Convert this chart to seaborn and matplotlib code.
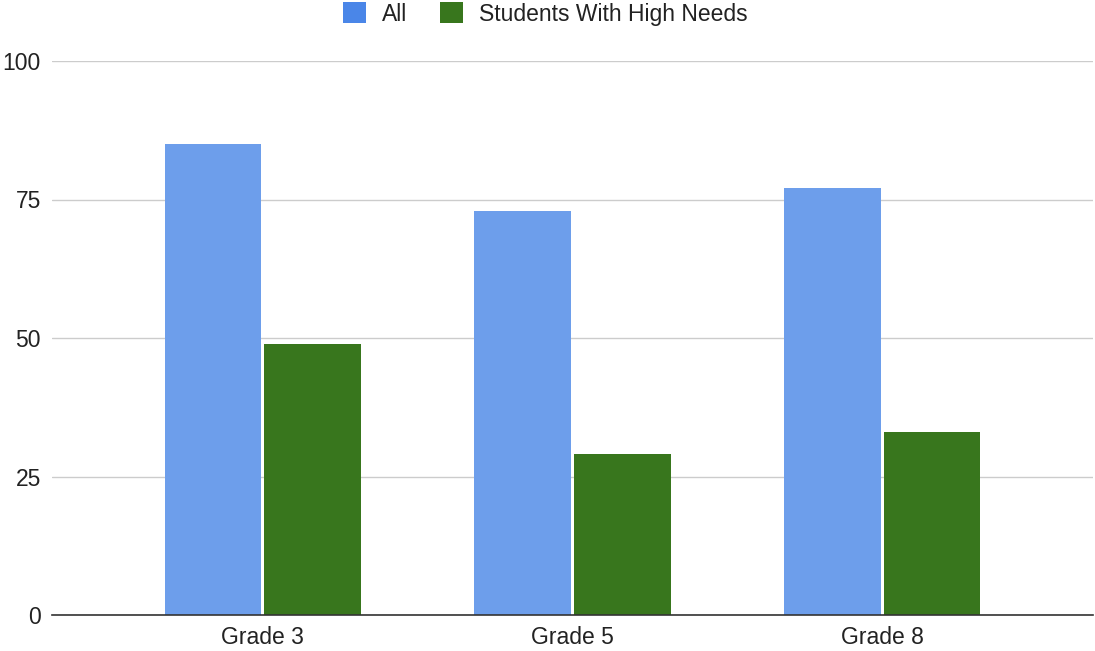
import matplotlib
matplotlib.use("Agg")
import matplotlib.pyplot as plt
from matplotlib.patches import Patch
import seaborn as sns
import pandas as pd

grades = ["Grade 3", "Grade 5", "Grade 8"]
all_students = [85, 73, 77]
high_needs = [49, 29, 33]
series_names = ["All", "Students With High Needs"]
bar_colors = ["#6d9eeb", "#38761d"]
legend_colors = ["#4a86e8", "#38761d"]
y_ticks = [0, 25, 50, 75, 100]

df = pd.DataFrame({
    "grade": grades * 2,
    "value": all_students + high_needs,
    "group": [series_names[0]] * len(grades) + [series_names[1]] * len(grades),
})

sns.set_style("white")
plt.rcParams["font.family"] = ["Liberation Sans", "DejaVu Sans"]

FS = 16.5

fig = plt.figure(figsize=(10.95, 6.51), dpi=100)
ax = fig.add_axes([52 / 1095, 1 - 615 / 651, (1093 - 52) / 1095, (615 - 61) / 651])

sns.barplot(data=df, x="grade", y="value", hue="group", order=grades,
            hue_order=series_names, palette=bar_colors, width=0.645,
            gap=0.035, saturation=1, ax=ax, legend=False, linewidth=0)

ax.set_xlim(-0.68, 2.68)
ax.set_ylim(0, 100)
ax.set_yticks(y_ticks)
ax.yaxis.grid(True, color="#cccccc", linewidth=1)
ax.set_axisbelow(True)
for s in ["top", "right", "left"]:
    ax.spines[s].set_visible(False)
ax.spines["bottom"].set_color("#333333")
ax.spines["bottom"].set_linewidth(1.2)
ax.set_xlabel("")
ax.set_ylabel("")
ax.tick_params(axis="both", length=0, labelsize=FS, colors="#222222")
ax.tick_params(axis="y", pad=8)
ax.tick_params(axis="x", pad=8)

handles = [Patch(facecolor=c, edgecolor="none") for c in legend_colors]
fig.legend(handles, series_names, loc="center", bbox_to_anchor=(0.498, 1 - 14 / 651),
           ncol=2, frameon=False, fontsize=FS, handlelength=1.0, handleheight=1.0,
           handletextpad=0.7, columnspacing=1.4, labelcolor="#222222",
           borderpad=0, borderaxespad=0)

fig.savefig("out.png", dpi=100)
